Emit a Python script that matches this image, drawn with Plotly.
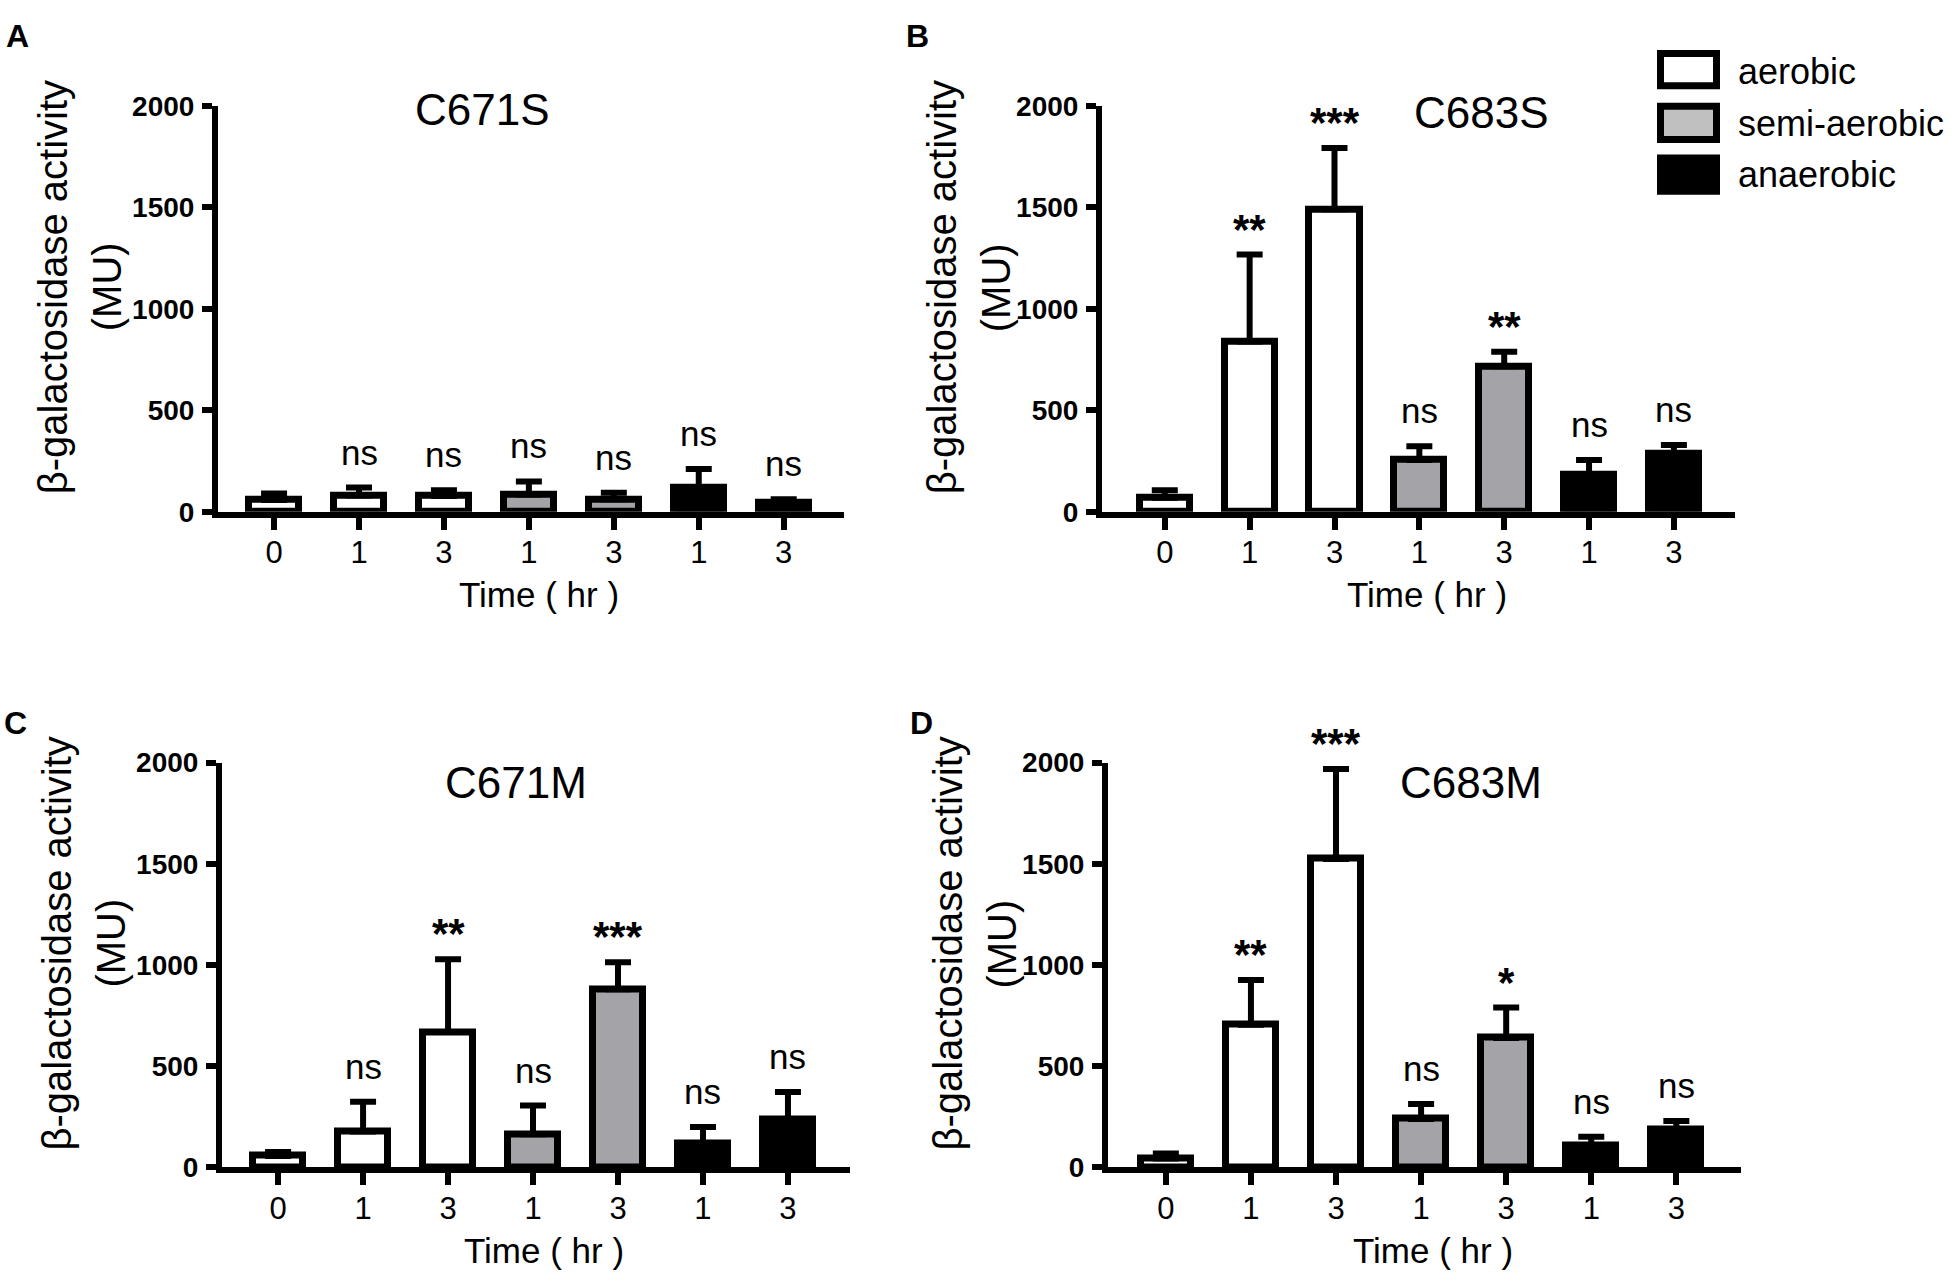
import plotly.graph_objects as go

W, H = 1955, 1284

# ---------------- data ----------------
time_labels = ["0", "1", "3", "1", "3", "1", "3"]
conditions = ["aerobic", "aerobic", "aerobic", "semi-aerobic", "semi-aerobic", "anaerobic", "anaerobic"]
legend_names = ["aerobic", "semi-aerobic", "anaerobic"]
panel_names = ["C671S", "C683S", "C671M", "C683M"]
panel_letters = ["A", "B", "C", "D"]
y_ticks = [0, 500, 1000, 1500, 2000]

mean_c671s = [58, 80, 77, 85, 61, 117, 42]
err_c671s = [32, 39, 29, 64, 32, 93, 19]
sig_c671s = ["", "ns", "ns", "ns", "ns", "ns", "ns"]

mean_c683s = [69, 839, 1490, 255, 716, 180, 288]
err_c683s = [37, 428, 302, 67, 72, 75, 41]
sig_c683s = ["", "**", "***", "ns", "**", "ns", "ns"]

mean_c671m = [57, 178, 669, 164, 880, 120, 235]
err_c671m = [19, 147, 360, 142, 133, 80, 138]
sig_c671m = ["", "ns", "**", "ns", "***", "ns", "ns"]

mean_c683m = [44, 705, 1524, 240, 640, 110, 190]
err_c683m = [25, 221, 444, 74, 150, 42, 39]
sig_c683m = ["", "**", "***", "ns", "*", "ns", "ns"]

means = [mean_c671s, mean_c683s, mean_c671m, mean_c683m]
errs = [err_c671s, err_c683s, err_c671m, err_c683m]
sigs = [sig_c671s, sig_c683s, sig_c671m, sig_c683m]

# ---------------- style ----------------
FILL = {"aerobic": "#ffffff", "semi-aerobic": "#a4a4a8", "anaerobic": "#000000"}
LEGEND_FILL = {"aerobic": "#ffffff", "semi-aerobic": "#c0c0c0", "anaerobic": "#000000"}
FONT = "Liberation Sans, Arial, sans-serif"
LW = 6
BAR_LW = 7

# panel pixel geometry: (x_left, x_right, y_top(2000), y_bottom(0)), x range
geom = [
    (218, 844, 93, 509, [-0.66, 6.71]),
    (1102, 1735, 93, 509, [-0.74, 6.72]),
    (222, 850, 766, 1181, [-0.66, 6.73]),
    (1108, 1741, 766, 1181, [-0.68, 6.76]),
]
ytitle_offsets = [(-165, -111), (-160, -106), (-165, -111), (-160, -106)]
title_pos = [(482, 97), (1481, 100), (516, 786), (1471, 787)]
letter_pos = [(17, 22), (917, 22), (16, 726), (921, 726)]


def px(x):
    return x / W


def py(y):
    return 1 - y / H


fig = go.Figure()
annotations = []
shapes = []

for i in range(4):
    xl, xr, yt, yb, xr_range = geom[i]
    sfx = "" if i == 0 else str(i + 1)
    xa, ya = "x" + sfx, "y" + sfx
    colors = [FILL[c] for c in conditions]
    fig.add_trace(go.Bar(
        x=list(range(len(time_labels))), y=means[i],
        xaxis=xa, yaxis=ya, width=0.59,
        marker=dict(color=colors, line=dict(color="black", width=BAR_LW)),
        error_y=dict(type="data", symmetric=False, array=errs[i],
                     arrayminus=[0] * len(errs[i]), thickness=LW, width=13, color="black"),
        showlegend=False, hoverinfo="skip",
    ))
    axis_common = dict(showgrid=False, zeroline=False, showline=True, linecolor="black",
                       linewidth=LW, ticks="outside", tickwidth=LW, tickcolor="black")
    fig.update_layout(**{
        ("xaxis" + sfx): dict(domain=[px(xl), px(xr)], range=xr_range, anchor=ya,
                              tickmode="array", tickvals=list(range(len(time_labels))),
                              ticktext=time_labels, ticklen=12, ticklabelstandoff=-4,
                              tickfont=dict(family=FONT, size=31, color="black"), **axis_common),
        ("yaxis" + sfx): dict(domain=[py(yb), py(yt)], range=[0, 2000], anchor=xa,
                              tickmode="array", tickvals=y_ticks, ticklen=10, ticklabelstandoff=2,
                              tickfont=dict(family=FONT, size=28, color="black", weight="bold"),
                              **axis_common),
    })
    # significance labels
    for j, s in enumerate(sigs[i]):
        if not s:
            continue
        star = "*" in s
        annotations.append(dict(
            x=j, y=means[i][j] + errs[i][j], xref=xa, yref=ya, text=s, showarrow=False,
            xanchor="center", yanchor="bottom", yshift=0 if star else 14,
            font=dict(family=FONT, size=42 if star else 35, color="black",
                      weight="bold" if star else "normal"),
        ))
    # panel title
    tx, ty = title_pos[i]
    annotations.append(dict(x=px(tx), y=py(ty), xref="paper", yref="paper", text=panel_names[i],
                            showarrow=False, xanchor="center", yanchor="middle",
                            font=dict(family=FONT, size=44, color="black")))
    # panel letter
    lx, ly = letter_pos[i]
    annotations.append(dict(x=px(lx), y=py(ly), xref="paper", yref="paper", text=panel_letters[i],
                            showarrow=False, xanchor="center", yanchor="middle",
                            font=dict(family=FONT, size=32, color="black", weight="bold")))
    # y title (two lines)
    yc = (yt + yb) / 2 - 22
    o1, o2 = ytitle_offsets[i]
    annotations.append(dict(x=px(xl + o1), y=py(yc), xref="paper", yref="paper",
                            text="\u03b2-galactosidase activity", textangle=-90, showarrow=False,
                            xanchor="center", yanchor="middle",
                            font=dict(family=FONT, size=40, color="black")))
    annotations.append(dict(x=px(xl + o2), y=py(yc), xref="paper", yref="paper",
                            text="(MU)", textangle=-90, showarrow=False,
                            xanchor="center", yanchor="middle",
                            font=dict(family=FONT, size=40, color="black")))
    # x title
    annotations.append(dict(x=px((xl + xr) / 2 + 8), y=py(yb + 85), xref="paper", yref="paper",
                            text="Time ( hr )", showarrow=False, xanchor="center", yanchor="middle",
                            font=dict(family=FONT, size=35, color="black")))

# legend drawn as boxes + labels
legend_boxes = [(1660.5, 39.5, 1716.5, 72.5), (1660.5, 93.5, 1716.5, 127.5), (1660.5, 146.5, 1716.5, 180.5)]
legend_text_y = [58, 111, 163]
for k, name in enumerate(legend_names):
    x0, y0, x1, y1 = legend_boxes[k]
    shapes.append(dict(type="rect", xref="paper", yref="paper", x0=px(x0), x1=px(x1),
                       y0=py(y1), y1=py(y0), fillcolor=LEGEND_FILL[name],
                       line=dict(color="black", width=7)))
    annotations.append(dict(x=px(1736), y=py(legend_text_y[k]), xref="paper", yref="paper",
                            text=name, showarrow=False, xanchor="left", yanchor="middle",
                            font=dict(family=FONT, size=36, color="black")))

fig.update_layout(width=W, height=H, margin=dict(l=0, r=0, t=0, b=0),
                  paper_bgcolor="white", plot_bgcolor="white", showlegend=False,
                  bargap=0, annotations=annotations, shapes=shapes)

fig.write_html(
    "out.html",
    config={"displayModeBar": False},
    post_script="document.body.style.margin='0px';document.body.style.padding='0px';"
                "document.documentElement.style.overflow='hidden';",
)
